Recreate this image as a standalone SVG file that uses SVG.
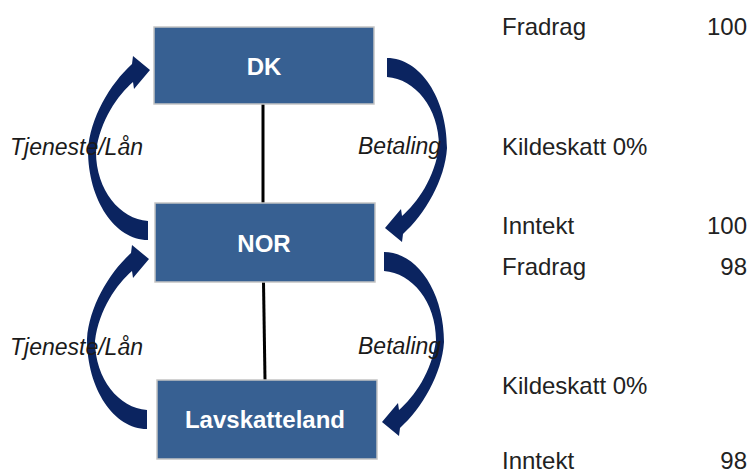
<svg xmlns="http://www.w3.org/2000/svg" width="751" height="475" viewBox="0 0 751 475">
<defs>
<style>
.box{fill:#376092;stroke:#c4c4c4;stroke-width:1.5}
.bt{font-family:"Liberation Sans",Arial,sans-serif;font-weight:bold;font-size:24px;fill:#ffffff;text-anchor:middle}
.lbl{font-family:"Liberation Sans",Arial,sans-serif;font-style:italic;font-size:23px;fill:#1a1a1a}
.rt{font-family:"Liberation Sans",Arial,sans-serif;font-size:24px;fill:#222222}
.num{text-anchor:end}
.arr{fill:#0b2460}
.ln{stroke:#000;stroke-width:3;fill:none}
</style>
<path id="carrow" d="M148,240 C115,240 88,200 88,150 C90,118 110,84 132,64 L133,56 L150,70 L134,89 L133,82 C118,95 100,120 96,152 C96,190 120,219 148,221 Z"/>
</defs>
<rect width="751" height="475" fill="#ffffff"/>
<g id="connectors">
<line class="ln" x1="263" y1="104" x2="263" y2="203"/>
<line class="ln" x1="263.5" y1="282" x2="265" y2="380"/>
<use href="#carrow" class="arr"/>
<use href="#carrow" class="arr" transform="rotate(180 267.5 149)"/>
<use href="#carrow" class="arr" transform="translate(-1 189)"/>
<use href="#carrow" class="arr" transform="rotate(180 266 246)"/>
</g>
<g id="node-dk">
<rect class="box" x="154" y="27" width="220" height="77"/>
<text class="bt" x="264" y="75">DK</text>
</g>
<g id="node-nor">
<rect class="box" x="155" y="203" width="220" height="79"/>
<text class="bt" x="264" y="252">NOR</text>
</g>
<g id="node-lav">
<rect class="box" x="157" y="380" width="220" height="79"/>
<text class="bt" x="265" y="428">Lavskatteland</text>
</g>
<g id="labels">
<text class="lbl" x="143" y="155" text-anchor="end">Tjeneste/Lån</text>
<text class="lbl" x="143" y="355" text-anchor="end">Tjeneste/Lån</text>
<text class="lbl" x="358" y="154">Betaling</text>
<text class="lbl" x="358" y="354">Betaling</text>
</g>
<g id="table">
<text class="rt" x="502" y="35">Fradrag</text>
<text class="rt num" x="747" y="35">100</text>
<text class="rt" x="502" y="155">Kildeskatt 0%</text>
<text class="rt" x="502" y="234">Inntekt</text>
<text class="rt num" x="747" y="234">100</text>
<text class="rt" x="502" y="275">Fradrag</text>
<text class="rt num" x="747" y="275">98</text>
<text class="rt" x="502" y="394">Kildeskatt 0%</text>
<text class="rt" x="502" y="469">Inntekt</text>
<text class="rt num" x="747" y="469">98</text>
</g>
</svg>
